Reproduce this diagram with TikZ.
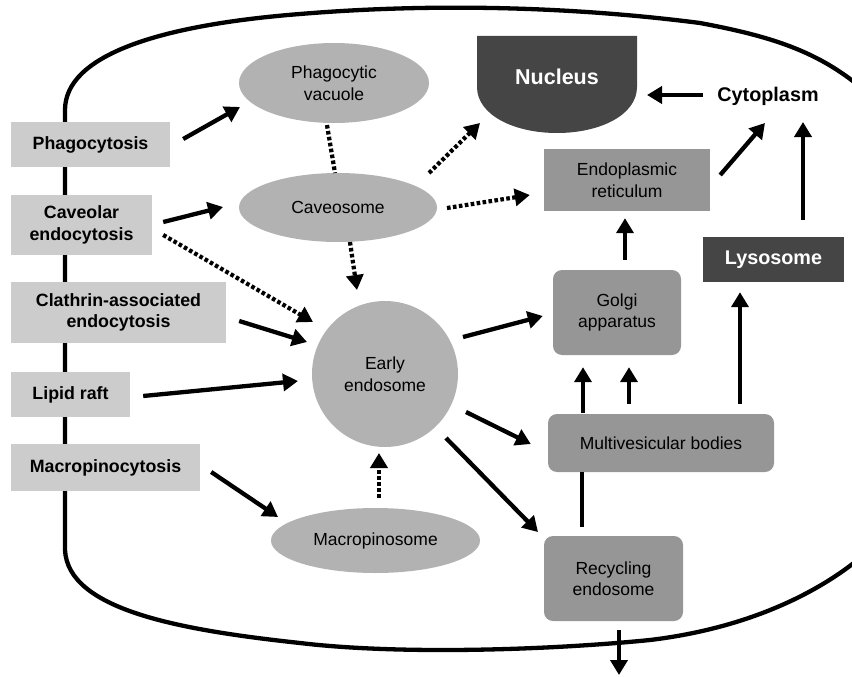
\documentclass[tikz,border=0pt]{standalone}
\usepackage{fontspec}
\setmainfont{Liberation Sans}
\usetikzlibrary{arrows.meta,calc,shapes.geometric}
\definecolor{lightg}{HTML}{CCCCCC}
\definecolor{ovalg}{HTML}{B2B2B2}
\definecolor{boxg}{HTML}{969696}
\definecolor{darkg}{HTML}{454545}
\begin{document}
\begin{tikzpicture}[x=1pt,y=-1pt,
  lbl/.style={fill=lightg, inner sep=0pt, font=\fontsize{17.8}{21.5}\selectfont\bfseries, align=center},
  oval/.style={ellipse, fill=ovalg, inner sep=0pt, font=\fontsize{17.5}{21.5}\selectfont, align=center},
  org/.style={fill=boxg, inner sep=0pt, font=\fontsize{17.5}{21.5}\selectfont, align=center},
  rorg/.style={org, rounded corners=9pt},
  dark/.style={fill=darkg, inner sep=0pt, text=white, font=\fontsize{19.8}{23}\selectfont\bfseries},
  arr/.style={line width=4.3pt, -{Triangle[length=15pt,width=17pt]}},
  dots/.style={line width=4.2pt, dash pattern=on 3.6pt off 2.4pt},
  darr/.style={dots, -{Triangle[length=15pt,width=17pt]}},
  membrane/.style={line width=4.3pt, line join=round}
]
\useasboundingbox (0,0) rectangle (852,677);
% cell membrane
\begin{scope}
\clip (0,0) rectangle (852,677);
\draw[membrane] (880,105) .. controls (830,55) and (780,38) .. (700,23)
  .. controls (560,5) and (420,4) .. (300,14)
  .. controls (160,25) and (65,55) .. (65,110)
  -- (65,550)
  .. controls (68,610) and (180,630) .. (300,643)
  .. controls (400,655) and (550,650) .. (650,640)
  .. controls (750,628) and (830,590) .. (880,540);
\end{scope}
% nucleus shape
\fill[darkg] (477,36) -- (637,36) -- (637,87)
  .. controls (637,115) and (600,133) .. (557,133)
  .. controls (514,133) and (477,115) .. (477,87) -- cycle;
\node[text=white, font=\fontsize{21.5}{25}\selectfont\bfseries] (nucleus) at (557,77) {Nucleus};
% entry routes
\node[lbl, minimum width=159pt, minimum height=45pt] (phago) at (90.5,144.5) {Phagocytosis};
\node[lbl, minimum width=141pt, minimum height=60pt] (caveolar) at (81.5,225) {Caveolar\\endocytosis};
\node[lbl, minimum width=215pt, minimum height=61pt] (clathrin) at (118.5,312.5) {Clathrin-associated\\endocytosis};
\node[lbl, minimum width=119pt, minimum height=45pt] (lipid) at (70.5,394.5) {Lipid raft};
\node[lbl, minimum width=189pt, minimum height=47pt] (macro) at (105.5,467.5) {Macropinocytosis};
% vesicles
\node[oval, minimum width=190pt, minimum height=80pt] (vac) at (334,83) {Phagocytic\\vacuole};
\node[oval, minimum width=198pt, minimum height=69pt] (caveo) at (338,207.5) {Caveosome};
\node[oval, circle, minimum size=146pt] (ee) at (385,374) {Early\\endosome};
\node[oval, minimum width=209pt, minimum height=65pt] (macrop) at (375.5,540.5) {Macropinosome};
% organelles
\node[org, minimum width=166pt, minimum height=62pt] (er) at (627,180) {Endoplasmic\\reticulum};
\node[rorg, minimum width=128pt, minimum height=85pt] (golgi) at (617,312.5) {Golgi\\apparatus};
\node[rorg, minimum width=226pt, minimum height=58pt] (mvb) at (661,443) {Multivesicular bodies};
\node[rorg, minimum width=139pt, minimum height=85pt] (rec) at (613.5,578.5) {Recycling\\endosome};
\node[dark, minimum width=141pt, minimum height=45pt] (lyso) at (773.5,259.5) {Lysosome};
\node[font=\fontsize{19.8}{23}\selectfont\bfseries] (cyto) at (768,96) {Cytoplasm};
\coordinate (out) at (619,675);
% connectors
\draw[arr] ($(phago.east)+(13,-5.5)$) -- ($(vac.center)+(-94,24)$);
\draw[arr] ($(caveolar.east)+(11,-3)$) -- ($(caveo.center)+(-115,-0.5)$);
\draw[darr] ($(caveolar.east)+(11,10)$) -- ($(ee.center)+(-72,-52)$);
\draw[dots] ($(vac.center)+(-7,42)$) -- ($(caveo.center)+(-3,-34.5)$);
\draw[darr] ($(caveo.center)+(12,34.5)$) -- ($(ee.center)+(-28,-84)$);
\draw[darr] ($(caveo.center)+(91,-34.5)$) -- ($(nucleus.center)+(-77,46)$);
\draw[darr] ($(caveo.center)+(109,0.5)$) -- ($(er.west)+(-14,15)$);
\draw[arr] ($(cyto.center)+(-65,-1)$) -- ($(nucleus.center)+(90,18)$);
\draw[arr] ($(er.east)+(10,-5)$) -- ($(cyto.center)+(-3,27)$);
\draw[arr] ($(lyso.north)+(29.5,-17)$) -- ($(cyto.center)+(35,26)$);
\draw[arr] ($(golgi.north)+(8,-10)$) -- ($(er.south)+(-2,7)$);
\draw[arr] ($(clathrin.east)+(13,8.5)$) -- ($(ee.center)+(-78,-32)$);
\draw[arr] ($(lipid.east)+(13,1.5)$) -- ($(ee.center)+(-87,7)$);
\draw[arr] ($(macro.east)+(11,4.5)$) -- ($(macrop.center)+(-97.5,-23.5)$);
\draw[darr] ($(macrop.center)+(3.5,-42.5)$) -- ($(ee.center)+(-6,79)$);
\draw[arr] ($(ee.center)+(78,-37)$) -- ($(golgi.west)+(-10,3.5)$);
\draw[arr] ($(ee.center)+(81,38)$) -- ($(mvb.west)+(-17,1)$);
\draw[arr] ($(ee.center)+(61,64)$) -- ($(rec.center)+(-75.5,-46.5)$);
\draw[line width=4.3pt] ($(rec.north)+(-31.5,-9)$) -- ($(mvb.south)+(-79,0)$);
\draw[arr] ($(mvb.north)+(-78,-1)$) -- ($(golgi.south)+(-34,12)$);
\draw[arr] ($(mvb.north)+(-32,-10)$) -- ($(golgi.south)+(12,12)$);
\draw[arr] ($(mvb.north)+(79,-10)$) -- ($(lyso.south)+(-33.5,10)$);
\draw[arr] ($(rec.south)+(5.5,9)$) -- (out);
\end{tikzpicture}
\end{document}
